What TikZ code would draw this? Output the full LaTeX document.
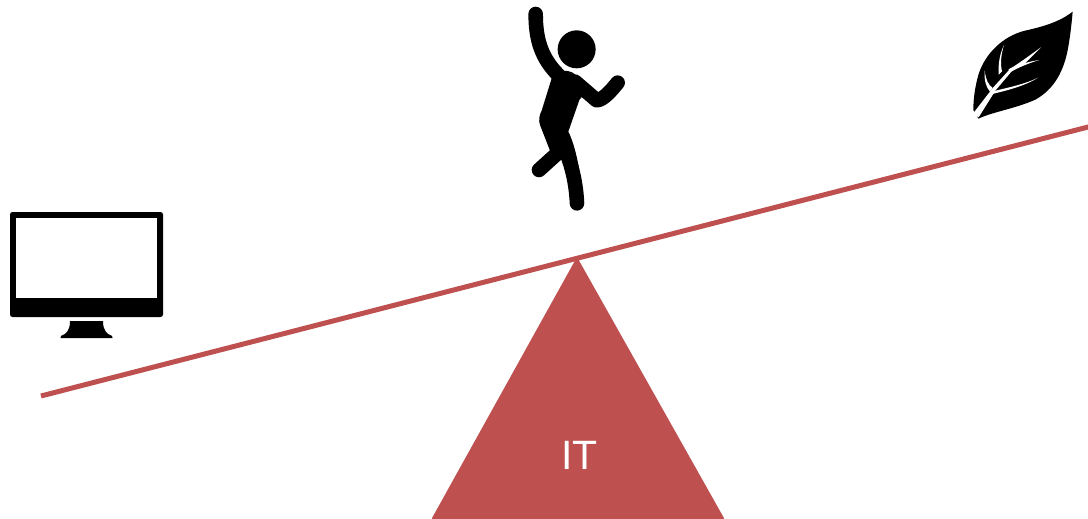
\documentclass[tikz,border=0pt]{standalone}
\usepackage{fontspec}
\setmainfont{Liberation Sans}
\usepackage{tikz}
\definecolor{itRed}{HTML}{BE5150}
\begin{document}
\begin{tikzpicture}[x=1pt,y=-1pt,
      beam/.style={draw=itRed,line width=5pt},
      limb/.style={draw=black,line width=14.6pt,line cap=round,line join=round}]
    \useasboundingbox (0,0) rectangle (1088,519);
    % pivot and beam
    \fill[itRed,rounded corners=1pt] (577,257) -- (724.5,519) -- (431.5,519) -- cycle;
    \node[text=white,font=\fontsize{41}{41}\selectfont,inner sep=0pt,anchor=base] (it) at (579.5,469) {IT};
    \coordinate (beamL) at (41,396);
    \coordinate (beamR) at (1092,126);
    \draw[beam] (beamL) -- (beamR);
    % computer
    \fill[black,rounded corners=2.5pt] (10,212) rectangle (163,317);
    \fill[white] (16,217.7) rectangle (157,298.3);
    \fill[black] (70,321) -- (103,321) .. controls (103,331) and (107,334) .. (112,336)
      -- (112.5,338) -- (60.5,338) -- (61,336) .. controls (66,334) and (70,331) .. (70,321) -- cycle;
    % person
    \begin{scope}[shift={(500,0)},x=0.3333pt,y=-0.3333pt]
      \fill[black] (230,148) circle (57);
      \draw[limb] (107,42) .. controls (107,120) and (125,175) .. (175,225);
      \draw[limb] (225,245) -- (290,301) .. controls (310,300) and (335,270) .. (353,248);
      \draw[limb] (231,610) .. controls (228,540) and (210,470) .. (180,420);
      \draw[limb] (170,462) -- (117,510);
      \fill[black] (155,235) .. controls (130,200) and (125,180) .. (120,150) -- (155,170)
        .. controls (165,195) and (180,205) .. (190,212) .. controls (210,212) and (225,218) .. (235,235)
        -- (250,285) -- (238,300) -- (205,395) .. controls (220,425) and (230,465) .. (238,510)
        -- (195,510) -- (185,470) -- (150,452) -- (120,375)
        .. controls (115,360) and (118,345) .. (125,332) -- cycle;
    \end{scope}
    % leaf
    \begin{scope}[shift={(960,0)},x=0.3333pt,y=-0.3333pt]
      \fill[black] (338,35) .. controls (300,65) and (250,80) .. (195,92)
        .. controls (130,108) and (75,160) .. (55,225)
        .. controls (45,262) and (40,295) .. (40,330) -- (55,356)
        .. controls (100,335) and (170,325) .. (228,298)
        .. controls (285,265) and (313,210) .. (325,140)
        .. controls (331,105) and (335,70) .. (338,35) -- cycle;
      \fill[white] (38,342) -- (100,262) -- (150,207) -- (190,180) -- (243,142)
        -- (195,190) -- (155,214) -- (106,272) -- (56,352) -- cycle;
      \fill[white] (74,212) .. controls (78,240) and (85,255) .. (98,264) -- (90,275)
        .. controls (78,262) and (72,240) .. (74,212) -- cycle;
      \fill[white] (132,135) .. controls (120,160) and (114,190) .. (116,224) -- (126,214)
        .. controls (120,190) and (124,160) .. (132,135) -- cycle;
      \fill[white] (145,208) .. controls (170,195) and (205,185) .. (238,180)
        .. controls (205,190) and (175,203) .. (155,214) -- cycle;
      \fill[white] (92,276) .. controls (135,264) and (190,255) .. (234,233)
        .. controls (195,258) and (140,272) .. (84,285) -- cycle;
    \end{scope}
  \end{tikzpicture}
\end{document}
